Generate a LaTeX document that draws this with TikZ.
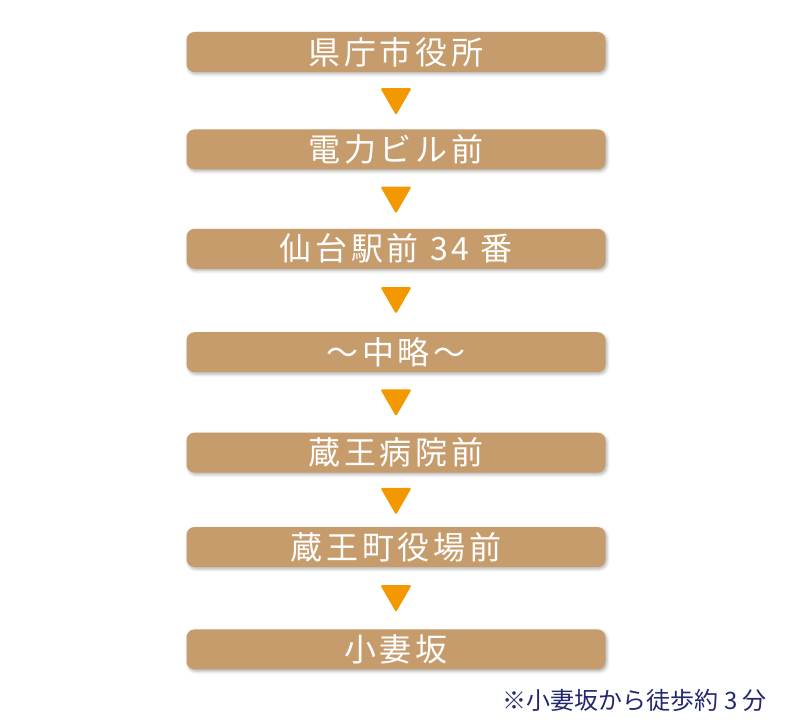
\documentclass[tikz,border=0pt]{standalone}
\usepackage{fontspec}
\usepackage{xcolor}
\usepackage{tikz}
\usetikzlibrary{positioning,shapes.geometric,shadows.blur}
\newfontfamily\jpfont[LetterSpace=12]{Noto Sans CJK JP}
\newfontfamily\notefont{Noto Sans CJK JP}
\definecolor{stoptan}{HTML}{C69C6D}
\definecolor{marker}{HTML}{F39800}
\definecolor{notenavy}{RGB}{35,40,110}

\begin{document}
\begin{tikzpicture}[
    node distance=17pt and 0pt,
    stopbox/.style={fill=stoptan, rounded corners=8pt, minimum width=419pt, minimum height=40pt, inner sep=0pt, text=white, font=\jpfont\fontsize{32pt}{32pt}\selectfont, blur shadow={shadow xshift=1.5pt, shadow yshift=-2pt, shadow blur radius=3pt, shadow opacity=30}},
    pointer/.style={regular polygon, regular polygon sides=3, shape border rotate=180, fill=marker, minimum size=36pt, inner sep=0pt, outer sep=0pt, rounded corners=1.5pt},
    note/.style={font=\notefont\fontsize{24pt}{24pt}\selectfont, text=notenavy, inner sep=0pt}
]
    \useasboundingbox (0,0) rectangle (800pt,-727pt);

    \node[stopbox] (kencho) at (396pt,-52pt) {県庁市役所};
    \node[pointer, below=16pt of kencho] (a1) {};
    \node[stopbox, below=14pt of a1] (denryoku) {電力ビル前};
    \node[pointer, below=17pt of denryoku] (a2) {};
    \node[stopbox, below=15pt of a2] (sendai) {仙台駅前\hspace{0.35em}34\hspace{0.35em}番};
    \node[pointer, below=18pt of sendai] (a3) {};
    \node[stopbox, below=18pt of a3] (churyaku) {～中略～};
    \node[pointer, below=17pt of churyaku] (a4) {};
    \node[stopbox, below=16pt of a4] (byoin) {蔵王病院前};
    \node[pointer, below=15pt of byoin] (a5) {};
    \node[stopbox, below=12pt of a5] (yakuba) {蔵王町役場前};
    \node[pointer, below=18pt of yakuba] (a6) {};
    \node[stopbox, below=17pt of a6] (kozuma) {小妻坂};

    \node[note, anchor=east] (walk) at (767pt,-700pt) {※小妻坂から徒歩約 3 分};
\end{tikzpicture}
\end{document}
